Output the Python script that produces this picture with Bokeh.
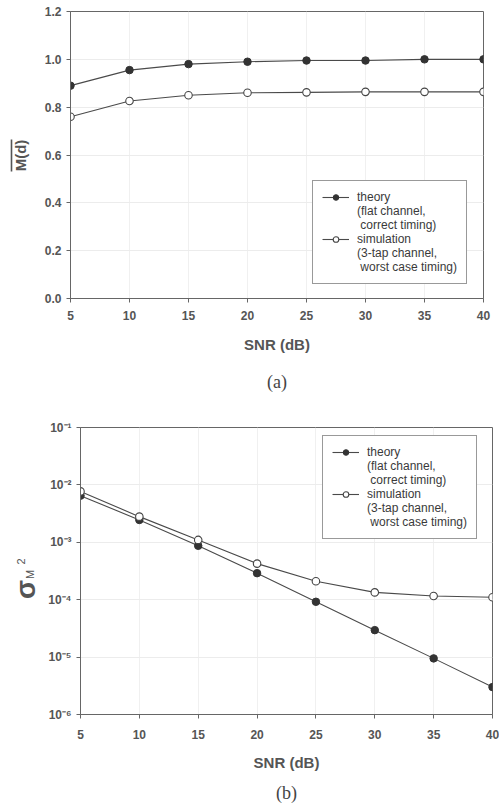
from bokeh.plotting import figure
from bokeh.layouts import column, row
from bokeh.models import (Legend, LegendItem, Title, Label, FixedTicker,
                          PrintfTickFormatter, Arrow)
from bokeh.embed import file_html
from bokeh.resources import INLINE
import math

# ---------------- data ----------------
snr = [5, 10, 15, 20, 25, 30, 35, 40]
m_theory = [0.89, 0.955, 0.98, 0.99, 0.995, 0.995, 1.0, 1.0]
m_sim = [0.76, 0.826, 0.85, 0.86, 0.862, 0.864, 0.864, 0.864]
var_theory = [6.5e-3, 2.45e-3, 8.7e-4, 2.9e-4, 9.2e-5, 2.95e-5, 9.5e-6, 3.0e-6]
var_sim = [7.7e-3, 2.8e-3, 1.1e-3, 4.25e-4, 2.1e-4, 1.34e-4, 1.16e-4, 1.1e-4]
x_ticks = [5, 10, 15, 20, 25, 30, 35, 40]
m_ticks = [0.0, 0.2, 0.4, 0.6, 0.8, 1.0, 1.2]
var_ticks = [1e-6, 1e-5, 1e-4, 1e-3, 1e-2, 1e-1]
var_tick_labels = ["10⁻⁶", "10⁻⁵", "10⁻⁴", "10⁻³", "10⁻²", "10⁻¹"]
label_theory = ["theory", "(flat channel,", " correct timing)"]
label_sim = ["simulation", "(3-tap channel,", " worst case timing)"]
x_title = "SNR (dB)"
y1_title = "M(d)"
y2_title = ["σ", "M", "2"]

FONT = "Liberation Sans"
INK = "#3a3a3a"
LINE = "#4a4a4a"
AXC = "#666666"
TXT = "#555555"
LABW1 = 37
LABW2 = 44


def style(p):
    p.background_fill_color = "white"
    p.border_fill_color = "white"
    p.outline_line_color = AXC
    p.outline_line_width = 1
    for ax in (p.xaxis[0], p.yaxis[0]):
        ax.axis_line_color = AXC
        ax.major_tick_line_color = AXC
        ax.minor_tick_line_color = None
        ax.major_tick_in = 0
        ax.major_tick_out = 4
        ax.major_label_text_font = FONT
        ax.major_label_text_font_style = "bold"
        ax.major_label_text_font_size = "12px"
        ax.major_label_text_color = TXT
        ax.axis_label_text_font = FONT
        ax.axis_label_text_font_style = "bold"
        ax.axis_label_text_color = TXT
        ax.axis_label_text_font_size = "15px"
    p.yaxis.major_label_standoff = 5
    p.xgrid.grid_line_color = "#f0f0f0"
    p.ygrid.grid_line_color = "#ececec"


def add_series(p, x, yt, ys):
    l1 = p.line(x, yt, line_color=LINE, line_width=1.1)
    c1 = p.scatter(x, yt, size=7.5, marker="circle", fill_color="#333333",
                   line_color="#333333")
    l2 = p.line(x, ys, line_color=LINE, line_width=1.1)
    c2 = p.scatter(x, ys, size=7.5, marker="circle", fill_color="white",
                   line_color="#444444", line_width=1.1)
    items = [LegendItem(label=label_theory[0], renderers=[l1, c1])]
    items += [LegendItem(label=t, renderers=[]) for t in label_theory[1:]]
    items += [LegendItem(label=label_sim[0], renderers=[l2, c2])]
    items += [LegendItem(label=t, renderers=[]) for t in label_sim[1:]]
    leg = Legend(items=items)
    leg.label_text_font = FONT
    leg.label_text_font_size = "12px"
    leg.label_text_color = INK
    leg.border_line_color = "#333333"
    leg.border_line_width = 1
    leg.background_fill_color = "white"
    leg.background_fill_alpha = 1
    leg.glyph_width = 27
    leg.glyph_height = 14
    leg.label_height = 14
    leg.label_standoff = 8
    leg.spacing = 0
    leg.padding = 9
    leg.margin = 0
    return leg


def label_strip(width, height):
    f = figure(width=width, height=height, frame_width=width,
               frame_height=height, x_range=(0, width),
               y_range=(0, height), output_backend="svg",
               toolbar_location=None, min_border=0)
    f.axis.visible = False
    f.grid.visible = False
    f.outline_line_color = None
    f.background_fill_color = "white"
    f.border_fill_color = "white"
    return f


def sideways(f, x, y, text, size, bold=False):
    f.add_layout(Label(x=x, y=y, x_units="screen", y_units="screen",
                       text=text, angle=math.pi / 2, text_font=FONT,
                       text_font_size=size,
                       text_font_style="bold" if bold else "normal",
                       text_color=TXT, text_align="center",
                       text_baseline="middle"))


# ---------------- top chart ----------------
H1, H2 = 410, 399
TOP1, TOP2 = 11, 17
p1 = figure(width=499 - LABW1, height=H1,
            x_range=(5, 40), y_range=(0, 1.2),
            output_backend="svg", toolbar_location=None,
            min_border_left=70 - LABW1, min_border_right=16,
            min_border_top=TOP1, min_border_bottom=112)
style(p1)
p1.xaxis.ticker = FixedTicker(ticks=x_ticks)
p1.yaxis.ticker = FixedTicker(ticks=m_ticks)
p1.yaxis.formatter = PrintfTickFormatter(format="%.1f")
p1.xaxis.axis_label = x_title
p1.xaxis.major_label_standoff = 8
p1.xaxis.axis_label_standoff = 13
leg1 = add_series(p1, snr, m_theory, m_sim)
leg1.location = (242, 14)
p1.add_layout(leg1, "center")
cap1 = Title(text="(a)", align="center", text_font="Liberation Serif",
             text_font_size="18px", text_font_style="normal",
             text_color="#444444", offset=0, standoff=29)
p1.add_layout(cap1, "below")

# label strip frame is aligned with the chart frame (its top at TOP1)
lab1 = label_strip(LABW1, H1)
sideways(lab1, 20, H1 + TOP1 - 155, y1_title, "15px", bold=True)
lab1.add_layout(Arrow(x_start=11, y_start=H1 + TOP1 - 171,
                      x_end=11, y_end=H1 + TOP1 - 139,
                      start_units="screen", end_units="screen",
                      start=None, end=None, line_color=TXT, line_width=1.6))

# ---------------- bottom chart ----------------
p2 = figure(width=499 - LABW2, height=H2,
            x_range=(5, 40), y_range=(1e-6, 1e-1), y_axis_type="log",
            output_backend="svg", toolbar_location=None,
            min_border_left=80 - LABW2, min_border_right=7,
            min_border_top=TOP2, min_border_bottom=95)
style(p2)
p2.xaxis.ticker = FixedTicker(ticks=x_ticks)
p2.yaxis.ticker = FixedTicker(ticks=var_ticks)
p2.yaxis.major_label_overrides = {t: s for t, s in zip(var_ticks, var_tick_labels)}
p2.ygrid.minor_grid_line_color = "#f3f3f3"
p2.xaxis.axis_label = x_title
p2.xaxis.major_label_standoff = 11
p2.xaxis.axis_label_standoff = 12
leg2 = add_series(p2, snr, var_theory, var_sim)
leg2.location = (242, 175)
p2.add_layout(leg2, "center")
cap2 = Title(text="(b)", align="center", text_font="Liberation Serif",
             text_font_size="18px", text_font_style="normal",
             text_color="#444444", offset=0, standoff=14)
p2.add_layout(cap2, "below")

lab2 = label_strip(LABW2, H2)
sideways(lab2, 25, H2 + TOP2 - 179, y2_title[0], "28px", bold=True)
sideways(lab2, 29, H2 + TOP2 - 164, y2_title[1], "11px")
sideways(lab2, 20, H2 + TOP2 - 151, y2_title[2], "11px")

layout = column(row(lab1, p1, spacing=0), row(lab2, p2, spacing=0), spacing=0)
open("out.html", "w").write(file_html(layout, INLINE))
